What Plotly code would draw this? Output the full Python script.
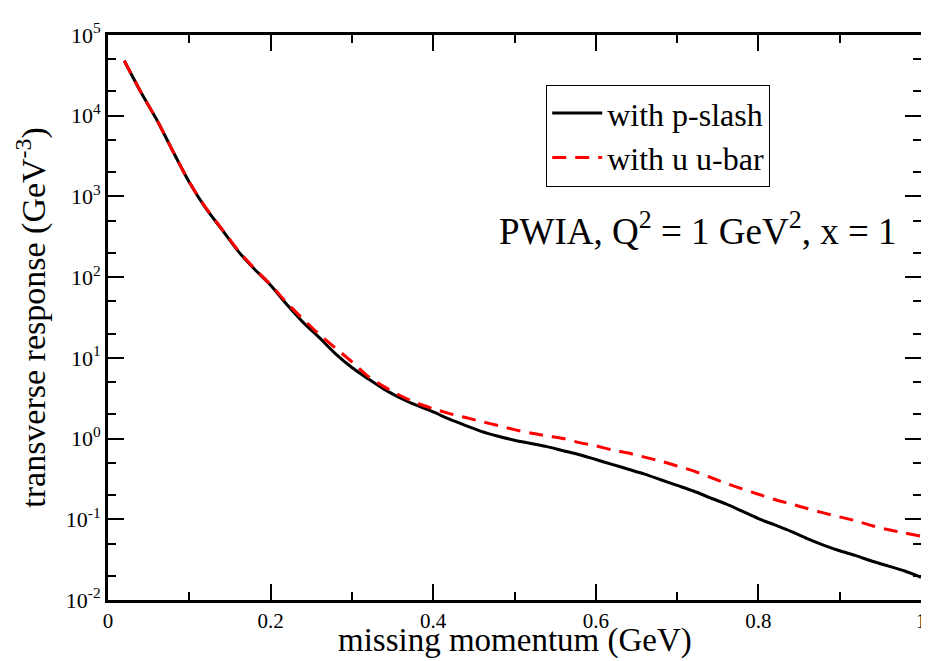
import plotly.graph_objects as go

# missing momentum (GeV)
p_miss = [0.02, 0.04, 0.06, 0.08, 0.10, 0.12, 0.14, 0.16, 0.18, 0.20,
          0.22, 0.24, 0.26, 0.28, 0.30, 0.32, 0.34, 0.36, 0.38, 0.40,
          0.42, 0.44, 0.46, 0.48, 0.50, 0.52, 0.54, 0.56, 0.58, 0.60,
          0.62, 0.64, 0.66, 0.68, 0.70, 0.72, 0.74, 0.76, 0.78, 0.80,
          0.82, 0.84, 0.86, 0.88, 0.90, 0.92, 0.94, 0.96, 0.98, 1.00]

# transverse response (GeV^-3), with p-slash
resp_pslash = [4.8e4, 2.0e4, 8.9e3, 3.6e3, 1.5e3, 720, 390, 210, 126, 79.4,
               45.7, 27.5, 17.8, 11.2, 7.59, 5.50, 4.07, 3.16, 2.57, 2.14,
               1.74, 1.45, 1.22, 1.07, 0.955, 0.871, 0.794, 0.708, 0.631, 0.550,
               0.479, 0.417, 0.363, 0.309, 0.263, 0.224, 0.186, 0.155, 0.126, 0.102,
               0.0851, 0.0708, 0.0575, 0.0479, 0.0407, 0.0355, 0.0302, 0.0263, 0.0229, 0.0191]

# transverse response (GeV^-3), with u u-bar
resp_uubar = [4.8e4, 2.0e4, 8.9e3, 3.6e3, 1.5e3, 730, 395, 215, 128, 81.0,
              47.9, 30.2, 19.5, 13.2, 8.91, 5.89, 4.37, 3.39, 2.75, 2.34,
              2.04, 1.82, 1.62, 1.45, 1.29, 1.17, 1.08, 1.00, 0.891, 0.813,
              0.724, 0.661, 0.589, 0.525, 0.457, 0.398, 0.334, 0.280, 0.238, 0.204,
              0.176, 0.155, 0.136, 0.120, 0.107, 0.0955, 0.0832, 0.0741, 0.0676, 0.0617]

x_tickvals = [0, 0.2, 0.4, 0.6, 0.8, 1.0]
x_ticktext = ["0", "0.2", "0.4", "0.6", "0.8", "1"]
x_minorvals = [0.1, 0.3, 0.5, 0.7, 0.9]
y_tickvals = [1e-2, 1e-1, 1e0, 1e1, 1e2, 1e3, 1e4, 1e5]
y_ticktext = ["10<sup>-2</sup>", "10<sup>-1</sup>", "10<sup>0</sup>", "10<sup>1</sup>",
              "10<sup>2</sup>", "10<sup>3</sup>", "10<sup>4</sup>", "10<sup>5</sup>"]

FONT = "Liberation Serif, Times New Roman, serif"

fig = go.Figure()
fig.add_trace(go.Scatter(x=p_miss, y=resp_pslash, mode="lines", name="with p-slash",
                         line=dict(color="black", width=3, shape="spline", smoothing=0.8)))
fig.add_trace(go.Scatter(x=p_miss, y=resp_uubar, mode="lines", name="with u u-bar",
                         line=dict(color="#ff0000", width=3, dash="14px,9px",
                                   shape="spline", smoothing=0.8)))

fig.update_layout(
    width=929, height=661,
    margin=dict(l=100, r=11, t=21, b=69),
    plot_bgcolor="white", paper_bgcolor="white",
    font=dict(family=FONT, color="black"),
    showlegend=True,
    legend=dict(x=0.539, y=0.912, xanchor="left", yanchor="top",
                bordercolor="black", borderwidth=1, bgcolor="white",
                font=dict(size=32, family=FONT), tracegroupgap=0,
                itemwidth=50),
    annotations=[
        dict(text="PWIA, Q<sup>2</sup> = 1 GeV<sup>2</sup>, x = 1",
             x=0.726, y=0.657, xref="paper", yref="paper",
             xanchor="center", yanchor="middle",
             showarrow=False, font=dict(size=37, family=FONT)),
        dict(text="missing momentum (GeV)", x=0.5, y=-0.072, xref="paper", yref="paper",
             xanchor="center", yanchor="middle",
             showarrow=False, font=dict(size=33, family=FONT)),
    ],
)

fig.update_xaxes(range=[0, 1], tickvals=x_tickvals, ticktext=x_ticktext,
                 ticks="inside", ticklen=16, tickwidth=2, tickcolor="black",
                 minor=dict(tickvals=x_minorvals, ticks="inside",
                            ticklen=8, tickwidth=2, tickcolor="black"),
                 showline=True, linecolor="black", linewidth=3, mirror="ticks",
                 showgrid=False, zeroline=False,
                 tickfont=dict(size=21, family=FONT))

fig.update_yaxes(type="log", range=[-2, 5], tickvals=y_tickvals, ticktext=y_ticktext,
                 ticks="inside", ticklen=16, tickwidth=2, tickcolor="black",
                 minor=dict(ticks="inside", ticklen=8, tickwidth=1.5, tickcolor="black",
                            showgrid=False),
                 showline=True, linecolor="black", linewidth=3, mirror="ticks",
                 showgrid=False, zeroline=False,
                 tickfont=dict(size=22, family=FONT),
                 title=dict(text="transverse response (GeV<sup>-3</sup>)",
                            font=dict(size=34, family=FONT), standoff=10))

fig.write_html("out.html")
